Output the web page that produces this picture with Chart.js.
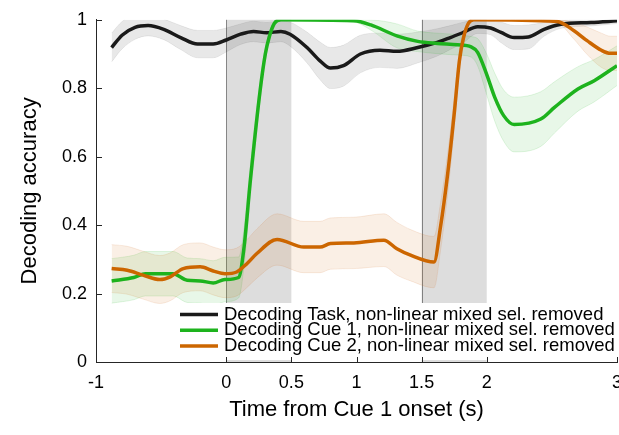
<!DOCTYPE html>
<html>
<head>
<meta charset="utf-8">
<script src="https://cdn.jsdelivr.net/npm/chart.js@4.4.1/dist/chart.umd.min.js"></script>
<style>
  html, body { margin: 0; padding: 0; background: #fff; }
  #wrap { width: 619px; height: 435px; }
</style>
</head>
<body>
<div id="wrap"><canvas id="chart"></canvas></div>
<script>
// Decoding Task
const taskTime = [-0.88, -0.8, -0.7, -0.6, -0.48, -0.35, -0.22, -0.1, 0.0, 0.11, 0.21, 0.31, 0.42, 0.49, 0.62, 0.72, 0.8, 0.9, 1.03, 1.18, 1.31, 1.47, 1.62, 1.72, 1.82, 1.93, 2.03, 2.11, 2.21, 2.32, 2.44, 2.57, 2.8, 3.0];
const taskMean = [0.919, 0.955, 0.978, 0.983, 0.972, 0.948, 0.929, 0.929, 0.941, 0.958, 0.966, 0.962, 0.966, 0.958, 0.919, 0.88, 0.859, 0.866, 0.9, 0.911, 0.908, 0.919, 0.934, 0.948, 0.963, 0.98, 0.976, 0.963, 0.948, 0.95, 0.972, 0.987, 0.992, 0.997];
const taskErr = [0.042, 0.04, 0.035, 0.03, 0.03, 0.035, 0.04, 0.04, 0.035, 0.03, 0.03, 0.03, 0.03, 0.035, 0.045, 0.055, 0.06, 0.06, 0.055, 0.05, 0.05, 0.045, 0.04, 0.035, 0.03, 0.02, 0.02, 0.03, 0.035, 0.035, 0.02, 0.012, 0.01, 0.008];

// Decoding Cue 1
const cue1Time = [-0.88, -0.71, -0.62, -0.41, -0.3, -0.2, -0.1, -0.01, 0.095, 0.135, 0.185, 0.26, 0.3, 0.33, 0.37, 0.42, 0.98, 1.11, 1.31, 1.47, 1.62, 1.775, 1.88, 1.93, 2.0, 2.06, 2.13, 2.21, 2.415, 2.52, 2.7, 2.825, 3.0];
const cue1Mean = [0.237, 0.247, 0.258, 0.258, 0.239, 0.237, 0.231, 0.241, 0.247, 0.33, 0.53, 0.793, 0.9, 0.95, 0.99, 1.0, 0.997, 0.985, 0.953, 0.937, 0.931, 0.927, 0.921, 0.905, 0.84, 0.775, 0.72, 0.694, 0.71, 0.744, 0.798, 0.822, 0.866];
const cue1Err = [0.065, 0.065, 0.065, 0.065, 0.065, 0.065, 0.065, 0.065, 0.06, 0.055, 0.045, 0.03, 0.02, 0.012, 0.006, 0.004, 0.004, 0.015, 0.035, 0.03, 0.03, 0.03, 0.03, 0.04, 0.06, 0.07, 0.075, 0.08, 0.08, 0.075, 0.065, 0.062, 0.058];

// Decoding Cue 2
const cue2Time = [-0.88, -0.76, -0.64, -0.51, -0.43, -0.33, -0.2, -0.1, -0.01, 0.08, 0.16, 0.235, 0.39, 0.595, 0.72, 0.8, 0.98, 1.21, 1.31, 1.415, 1.595, 1.645, 1.7, 1.75, 1.79, 1.82, 1.86, 1.9, 2.54, 2.67, 2.77, 2.88, 2.95, 3.0];
const cue2Mean = [0.273, 0.268, 0.254, 0.241, 0.249, 0.273, 0.278, 0.266, 0.258, 0.263, 0.288, 0.317, 0.358, 0.336, 0.336, 0.346, 0.348, 0.356, 0.331, 0.312, 0.292, 0.395, 0.55, 0.725, 0.88, 0.945, 0.99, 1.0, 0.995, 0.968, 0.939, 0.911, 0.902, 0.902];
const cue2Err = [0.07, 0.07, 0.07, 0.07, 0.07, 0.07, 0.07, 0.07, 0.07, 0.07, 0.07, 0.072, 0.075, 0.075, 0.075, 0.075, 0.075, 0.077, 0.077, 0.075, 0.075, 0.07, 0.06, 0.045, 0.03, 0.015, 0.005, 0.003, 0.005, 0.025, 0.04, 0.05, 0.05, 0.05];

const seriesLabels = [
  'Decoding Task, non-linear mixed sel. removed',
  'Decoding Cue 1, non-linear mixed sel. removed',
  'Decoding Cue 2, non-linear mixed sel. removed'
];

// shaded cue windows (s)
const shadeStart = [0, 1.5];
const shadeEnd = [0.5, 2];

const xTickValues = [-1, 0, 0.5, 1, 1.5, 2, 3];
const xTickLabels = ['-1', '0', '0.5', '1', '1.5', '2', '3'];
const yTickValues = [0, 0.2, 0.4, 0.6, 0.8, 1];
const yTickLabels = ['0', '0.2', '0.4', '0.6', '0.8', '1'];

const FONT = "'Liberation Sans', Arial, Helvetica, sans-serif";
const colors = ['#1a1a1a', '#1db31d', '#cc6600'];
const bandFill = ['rgba(0,0,0,0.09)', 'rgba(29,179,29,0.1)', 'rgba(204,102,0,0.1)'];
const bandEdge = ['rgba(0,0,0,0.07)', 'rgba(29,179,29,0.12)', 'rgba(204,102,0,0.12)'];

const series = [
  { time: taskTime, mean: taskMean, err: taskErr },
  { time: cue1Time, mean: cue1Mean, err: cue1Err },
  { time: cue2Time, mean: cue2Mean, err: cue2Err }
];

const toPoints = (time, vals) => time.map((t, i) => ({ x: t, y: vals[i] }));

const datasets = [];
series.forEach((s, k) => {
  const hi = s.mean.map((m, i) => m + s.err[i]);
  const lo = s.mean.map((m, i) => m - s.err[i]);
  datasets.push({
    data: toPoints(s.time, hi),
    borderColor: bandEdge[k], borderWidth: 1,
    backgroundColor: bandFill[k],
    pointRadius: 0, cubicInterpolationMode: 'monotone',
    fill: '+1', order: 20 - k * 2
  });
  datasets.push({
    data: toPoints(s.time, lo),
    borderColor: bandEdge[k], borderWidth: 1,
    pointRadius: 0, cubicInterpolationMode: 'monotone',
    fill: false, order: 19 - k * 2
  });
});
series.forEach((s, k) => {
  datasets.push({
    label: seriesLabels[k],
    data: toPoints(s.time, s.mean),
    borderColor: colors[k], borderWidth: 3.5,
    pointRadius: 0, cubicInterpolationMode: 'monotone',
    fill: false, order: 3 - k
  });
});

// gray cue windows behind everything
const shadePlugin = {
  id: 'shade',
  beforeDatasetsDraw(chart) {
    const { ctx, scales: { x, y } } = chart;
    ctx.save();
    shadeStart.forEach((s, i) => {
      const x0 = x.getPixelForValue(s), x1 = x.getPixelForValue(shadeEnd[i]);
      const y0 = y.getPixelForValue(1), y1 = y.getPixelForValue(0);
      ctx.fillStyle = 'rgba(0,0,0,0.135)';
      ctx.fillRect(x0, y0, x1 - x0, y1 - y0);
      ctx.strokeStyle = 'rgba(0,0,0,0.42)';
      ctx.lineWidth = 1;
      ctx.beginPath();
      ctx.moveTo(Math.round(x0) + 0.5, y0);
      ctx.lineTo(Math.round(x0) + 0.5, y1);
      ctx.stroke();
    });
    ctx.restore();
  }
};

// legend box inside the plot + inward ticks
const legendPlugin = {
  id: 'innerLegend',
  afterDatasetsDraw(chart) {
    const { ctx, chartArea } = chart;
    ctx.save();
    ctx.fillStyle = '#fff';
    ctx.fillRect(176, 303, chartArea.right - 176, 57);
    ctx.font = '18.5px ' + FONT;
    ctx.textBaseline = 'middle';
    seriesLabels.forEach((lab, i) => {
      const yy = 314.5 + i * 15.8;
      ctx.strokeStyle = colors[i];
      ctx.lineWidth = 3.5;
      ctx.beginPath();
      ctx.moveTo(180, yy);
      ctx.lineTo(218, yy);
      ctx.stroke();
      ctx.fillStyle = '#000';
      ctx.fillText(lab, 224, yy);
    });
    ctx.restore();
  },
  afterDraw(chart) {
    const { ctx, chartArea, scales: { x, y } } = chart;
    ctx.save();
    ctx.strokeStyle = '#262626';
    ctx.lineWidth = 1;
    ctx.beginPath();
    xTickValues.forEach(v => {
      const px = Math.round(x.getPixelForValue(v)) + 0.5;
      ctx.moveTo(px, chartArea.bottom);
      ctx.lineTo(px, chartArea.bottom - 5);
    });
    yTickValues.forEach(v => {
      const py = Math.round(y.getPixelForValue(v)) + 0.5;
      ctx.moveTo(chartArea.left, py);
      ctx.lineTo(chartArea.left + 6, py);
    });
    ctx.stroke();
    ctx.restore();
  }
};

new Chart(document.getElementById('chart'), {
  type: 'line',
  data: { datasets },
  plugins: [shadePlugin, legendPlugin],
  options: {
    responsive: true,
    maintainAspectRatio: false,
    animation: false,
    layout: { padding: { top: 19, right: 2, left: 0, bottom: 0 } },
    plugins: { legend: { display: false }, tooltip: { enabled: false } },
    scales: {
      x: {
        type: 'linear', min: -1, max: 3,
        grid: { display: false, drawTicks: false },
        border: { display: true, color: '#262626', width: 1 },
        afterBuildTicks: (scale) => { scale.ticks = xTickValues.map(v => ({ value: v })); },
        afterFit: (scale) => { scale.height = 73; scale.paddingLeft = 0; scale.paddingRight = 0; },
        ticks: {
          padding: 10, maxRotation: 0, autoSkip: false,
          color: '#000', font: { family: FONT, size: 18 },
          callback: (v, i) => xTickLabels[i]
        },
        title: {
          display: true, text: 'Time from Cue 1 onset (s)', color: '#000',
          font: { family: FONT, size: 22 }, padding: { top: 0, bottom: 12 }
        }
      },
      y: {
        type: 'linear', min: 0, max: 1,
        grid: { display: false, drawTicks: false },
        border: { display: true, color: '#262626', width: 1 },
        afterBuildTicks: (scale) => { scale.ticks = yTickValues.map(v => ({ value: v })); },
        afterFit: (scale) => { scale.width = 96; },
        ticks: {
          padding: 9, color: '#000', font: { family: FONT, size: 18 },
          callback: (v, i) => yTickLabels[i]
        },
        title: {
          display: true, text: 'Decoding accuracy', color: '#000',
          font: { family: FONT, size: 22 }, padding: { top: 17, bottom: 0 }
        }
      }
    }
  }
});
</script>
</body>
</html>
